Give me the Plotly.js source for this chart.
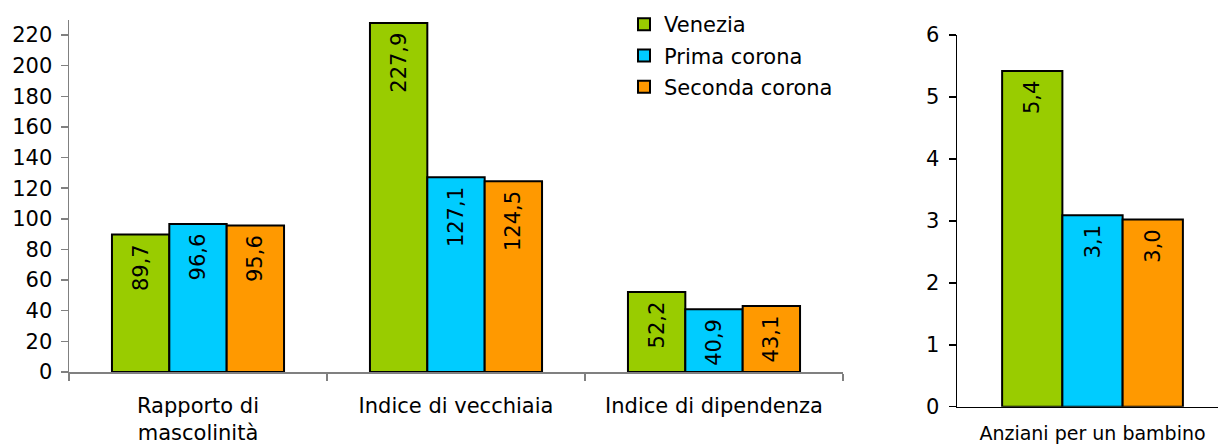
<!DOCTYPE html>
<html>
<head>
<meta charset="utf-8">
<script src="https://cdn.plot.ly/plotly-3.0.1.min.js"></script>
<style>
  html, body { margin: 0; padding: 0; background: #fff; }
  #chart { width: 1218px; height: 448px; }
</style>
</head>
<body>
<div id="chart"></div>
<script>
// Indicatori demografici: Venezia vs prima e seconda corona
const categories = ['Rapporto di<br>mascolinità', 'Indice di vecchiaia', 'Indice di dipendenza'];
const venezia = [89.7, 227.9, 52.2];
const primaCorona = [96.6, 127.1, 40.9];
const secondaCorona = [95.6, 124.5, 43.1];

const categoriesRight = ['Anziani per un bambino'];
const veneziaRight = [5.42];
const primaRight = [3.09];
const secondaRight = [3.02];

const seriesNames = ['Venezia', 'Prima corona', 'Seconda corona'];
const colors = ['#99CC00', '#00CCFF', '#FF9900'];

const FONT = "'DejaVu Sans', Verdana, sans-serif";
const FS = 21;

// etichette con la virgola decimale (nbsp finale = un po' di margine dal bordo della barra)
const fmt = v => v.toFixed(1).replace('.', ',') + '\u00a0';

function barTrace(name, color, x, y, xa, ya, legend) {
    return {
        type: 'bar',
        name: name,
        legendgroup: name,
        x: x,
        y: y,
        xaxis: xa,
        yaxis: ya,
        showlegend: legend,
        marker: { color: color, line: { color: '#000', width: 2 } },
        text: y.map(fmt),
        textposition: 'inside',
        insidetextanchor: 'end',
        textangle: -90,
        constraintext: 'none',
        textfont: { family: FONT, size: FS, color: '#000' },
        hoverinfo: 'skip'
    };
}

const leftData = [venezia, primaCorona, secondaCorona];
const rightData = [veneziaRight, primaRight, secondaRight];

const traces = [];
leftData.forEach((vals, i) => {
    traces.push(barTrace(seriesNames[i], colors[i], categories, vals, 'x', 'y', true));
});
rightData.forEach((vals, i) => {
    traces.push(barTrace(seriesNames[i], colors[i], categoriesRight, vals, 'x2', 'y2', false));
});

const layout = {
    width: 1218,
    height: 448,
    margin: { l: 0, r: 0, t: 0, b: 0 },
    paper_bgcolor: '#fff',
    plot_bgcolor: 'rgba(0,0,0,0)',
    font: { family: FONT, size: FS, color: '#000' },
    barmode: 'group',
    bargap: 0.333,
    bargroupgap: 0,
    showlegend: true,
    legend: {
        x: 624 / 1218, y: 0.991, xanchor: 'left', yanchor: 'top',
        bgcolor: 'rgba(0,0,0,0)',
        tracegroupgap: 1,
        font: { family: FONT, size: FS, color: '#000' },
        itemclick: false
    },
    xaxis: {
        domain: [69 / 1218, 843 / 1218],
        type: 'category',
        showline: true, linecolor: '#808080', linewidth: 1.5,
        ticks: 'outside', tickson: 'boundaries', ticklen: 7, tickcolor: '#808080', tickwidth: 1.5,
        tickfont: { family: FONT, size: FS },
        ticklabelstandoff: 14,
        showgrid: false, zeroline: false, fixedrange: true
    },
    yaxis: {
        domain: [(448 - 372) / 448, (448 - 19.7) / 448],
        range: [0, 230],
        tickvals: [0, 20, 40, 60, 80, 100, 120, 140, 160, 180, 200, 220],
        showline: true, linecolor: '#808080', linewidth: 1.5,
        ticks: 'outside', ticklen: 7, tickcolor: '#808080', tickwidth: 1.5,
        tickfont: { family: FONT, size: FS },
        ticklabelstandoff: 4,
        showgrid: false, zeroline: false, fixedrange: true
    },
    xaxis2: {
        domain: [957 / 1218, 1],
        anchor: 'y2',
        type: 'category',
        range: [-0.5, 0.463],
        showline: true, linecolor: '#000', linewidth: 1.5,
        ticks: '',
        tickfont: { family: FONT, size: 19 },
        ticklabelstandoff: 9,
        showgrid: false, zeroline: false, fixedrange: true
    },
    yaxis2: {
        domain: [(448 - 406.7) / 448, (448 - 35) / 448],
        anchor: 'x2',
        range: [0, 6],
        dtick: 1,
        showline: true, linecolor: '#000', linewidth: 1.5,
        ticks: 'outside', ticklen: 7, tickcolor: '#000', tickwidth: 1.5,
        tickfont: { family: FONT, size: FS },
        ticklabelstandoff: 5,
        showgrid: false, zeroline: false, fixedrange: true
    }
};

Plotly.newPlot('chart', traces, layout, { displayModeBar: false, staticPlot: true });
</script>
</body>
</html>
